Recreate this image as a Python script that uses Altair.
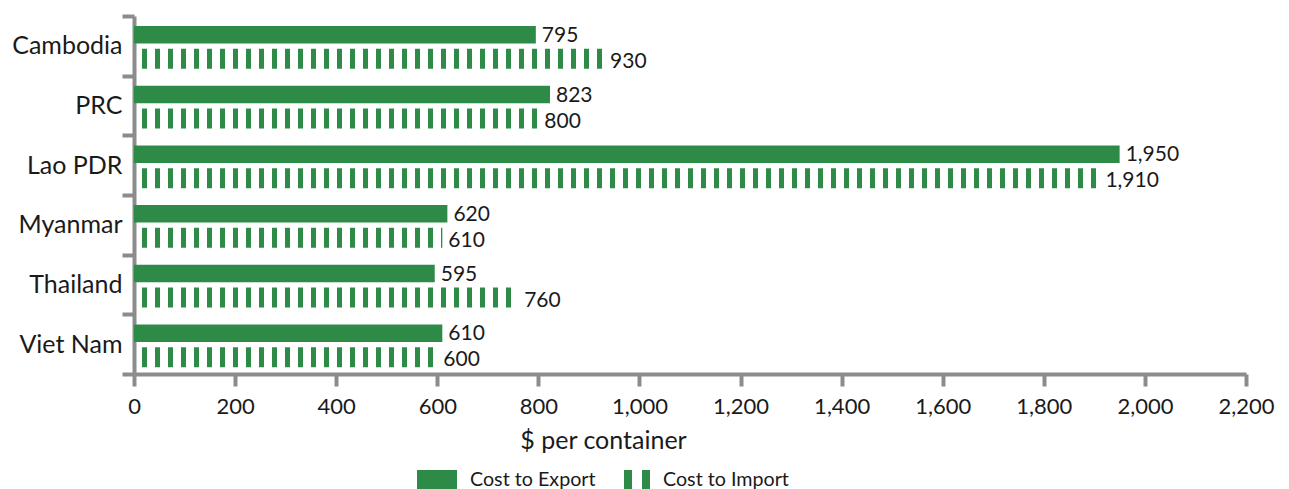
import altair as alt
import pandas as pd

countries = ["Cambodia", "PRC", "Lao PDR", "Myanmar", "Thailand", "Viet Nam"]
cost_export = [795, 823, 1950, 620, 595, 610]
cost_import = [930, 800, 1910, 610, 760, 600]
series_names = ["Cost to Export", "Cost to Import"]
x_ticks = [0, 200, 400, 600, 800, 1000, 1200, 1400, 1600, 1800, 2000, 2200]

GREEN = "#2e8b47"
GREY = "#8c8c8c"
FONT = "Lato"
TEXT = "#1a1a1a"

rows = []
for c, e, i in zip(countries, cost_export, cost_import):
    rows.append({"country": c, "series": series_names[0], "value": e, "zero": 0})
    rows.append({"country": c, "series": series_names[1], "value": i, "zero": 0})
df = pd.DataFrame(rows)

x_axis = alt.Axis(
    values=x_ticks, format=",.0f", title="$ per container", grid=False, labelFlush=False,
    labelFontSize=22, labelPadding=10, titleFontSize=25, titleFontWeight="normal",
    titleX=469, titleY=74, titleBaseline="alphabetic",
)
x_scale = alt.Scale(domain=[0, 2200], nice=False)
x_enc = alt.X("value:Q", scale=x_scale, axis=x_axis)
x_zero = alt.X("zero:Q", scale=x_scale, axis=x_axis)
y_enc = alt.Y(
    "country:N", sort=countries, title=None,
    scale=alt.Scale(paddingInner=0, paddingOuter=0),
    axis=alt.Axis(tickBand="extent", labelFontSize=25, labelPadding=0, grid=False),
)

base = alt.Chart(df)

bars = base.transform_filter(alt.datum.series == series_names[0]).mark_bar(
    height=17.5, yOffset=-11, color=GREEN
).encode(x=x_enc, y=y_enc)

stripes = base.transform_filter(alt.datum.series == series_names[1]).mark_rule(
    strokeWidth=20, strokeDash=[5, 8], strokeDashOffset=5, yOffset=13,
    color=GREEN, strokeCap="butt"
).encode(x=x_zero, x2="value:Q", y=y_enc)

labels_export = base.transform_filter(alt.datum.series == series_names[0]).mark_text(
    align="left", baseline="middle", dx=6, yOffset=-10, fontSize=21, font=FONT, color=TEXT
).encode(x=x_enc, y=y_enc, text=alt.Text("value:Q", format=",.0f"))

labels_import = base.transform_filter(alt.datum.series == series_names[1]).mark_text(
    align="left", baseline="middle", dx=6, yOffset=16, fontSize=21, font=FONT, color=TEXT
).encode(x=x_enc, y=y_enc, text=alt.Text("value:Q", format=",.0f"))

legend_layer = base.mark_point(filled=True, opacity=0, color=GREEN).encode(
    x=x_enc, y=y_enc,
    shape=alt.Shape(
        "series:N",
        scale=alt.Scale(
            domain=series_names,
            range=[
                "M-1,-0.5H1V0.5H-1Z",
                "M-0.3,-0.5H0.1V0.5H-0.3Z M0.6,-0.5H1V0.5H0.6Z",
            ],
        ),
        legend=alt.Legend(
            orient="none", legendX=283, legendY=444, direction="horizontal", title=None,
            symbolSize=1600, symbolFillColor=GREEN, symbolOpacity=1, symbolStrokeWidth=0,
            labelFontSize=19.7, labelFont=FONT, labelOffset=13, columnPadding=14,
            labelColor=TEXT,
        ),
    ),
)

chart = alt.layer(bars, stripes, labels_export, labels_import, legend_layer).properties(
    width=1112, height=358,
    autosize=alt.AutoSizeParams(type="none"),
    padding={"left": 126, "top": 8, "right": 35, "bottom": 123},
).configure_view(stroke=None).configure_axis(
    domainColor=GREY, domainWidth=4, tickColor=GREY, tickWidth=4, tickSize=12,
    labelFont=FONT, titleFont=FONT, labelColor=TEXT, titleColor=TEXT,
)

chart.save("out.html", embed_options={"renderer": "svg", "actions": False})
